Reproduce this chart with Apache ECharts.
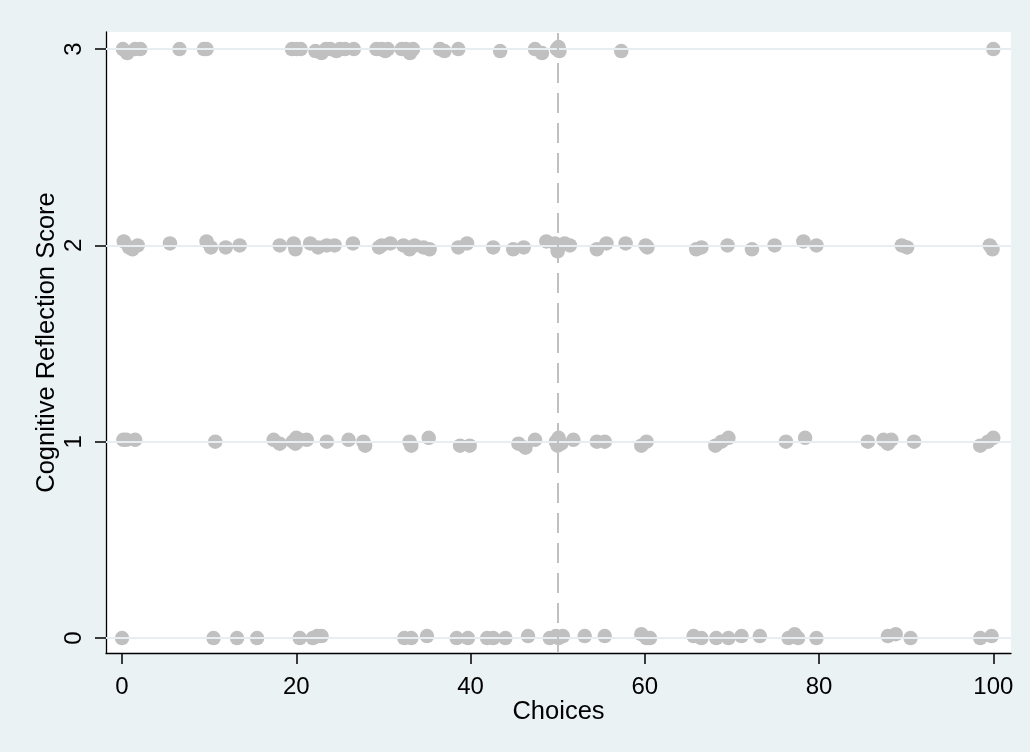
<!DOCTYPE html>
<html>
<head>
<meta charset="utf-8">
<script src="https://cdn.jsdelivr.net/npm/echarts@6/dist/echarts.min.js"></script>
<style>
  html, body { margin: 0; padding: 0; background: #EAF2F3; }
  #chart { width: 1030px; height: 752px; }
</style>
</head>
<body>
<div id="chart"></div>
<script>
// ---- data (x = choice, y = jittered cognitive reflection score) ----
const score3 = [
  [0.1, 3.0], [0.6, 2.98], [1.5, 3.0], [2.1, 3.0], [6.6, 3.0], [9.4, 3.0], [9.7, 3.0],
  [19.5, 3.0], [20.0, 3.0], [20.5, 3.0], [22.2, 2.99], [22.9, 2.98], [23.4, 3.0], [23.9, 3.0],
  [24.6, 2.99], [25.0, 3.0], [25.6, 3.0], [26.6, 3.0], [29.2, 3.0], [29.8, 3.0], [30.2, 2.99],
  [30.5, 3.0], [32.1, 3.0], [32.6, 3.0], [33.05, 2.98], [33.4, 3.0], [36.5, 3.0], [37.0, 2.99],
  [38.6, 3.0], [43.4, 2.99], [47.4, 3.0], [48.2, 2.98], [49.9, 3.0], [50.1, 3.01], [50.2, 2.99],
  [57.3, 2.99], [100, 3.0]
];
const score2 = [
  [0.2, 2.02], [0.8, 1.99], [1.2, 1.98], [1.8, 2.0], [5.5, 2.01], [9.7, 2.02], [10.2, 1.99],
  [11.9, 1.99], [13.5, 2.0], [18.1, 2.0], [19.7, 2.01], [19.9, 1.98], [21.6, 2.01], [22.5, 1.99],
  [23.5, 2.0], [24.4, 2.0], [26.5, 2.01], [29.5, 1.99], [29.8, 2.0], [30.8, 2.01], [32.3, 2.0],
  [33.0, 1.98], [33.6, 2.0], [34.6, 1.99], [35.3, 1.98], [38.6, 1.99], [39.6, 2.01], [42.6, 1.99],
  [44.9, 1.98], [46.1, 1.99], [48.7, 2.02], [49.7, 2.01], [50.0, 1.97], [50.3, 2.0], [50.8, 2.01],
  [51.4, 2.0], [54.5, 1.98], [55.6, 2.01], [57.8, 2.01], [60.1, 2.0], [60.3, 1.99], [65.9, 1.98],
  [66.5, 1.99], [69.5, 2.0], [72.3, 1.98], [74.9, 2.0], [78.2, 2.02], [79.7, 2.0], [89.5, 2.0],
  [90.1, 1.99], [99.6, 2.0], [99.9, 1.98]
];
const score1 = [
  [0.15, 1.01], [0.5, 1.01], [1.5, 1.01], [10.7, 1.0], [17.4, 1.01], [18.1, 0.99], [19.6, 1.0],
  [19.9, 0.99], [20.0, 1.02], [20.4, 1.01], [21.2, 1.01], [23.5, 1.0], [26.0, 1.01], [27.7, 1.0],
  [27.9, 0.98], [33.0, 1.0], [33.2, 0.98], [35.2, 1.02], [38.8, 0.98], [39.9, 0.98], [45.5, 0.99],
  [46.3, 0.97], [47.4, 1.01], [49.8, 1.0], [50.0, 0.98], [50.1, 1.02], [50.4, 0.99], [51.8, 1.01],
  [54.5, 1.0], [55.4, 1.0], [59.6, 0.98], [60.2, 1.0], [68.1, 0.98], [68.8, 1.0], [69.6, 1.02],
  [76.2, 1.0], [78.4, 1.02], [85.6, 1.0], [87.4, 1.01], [87.9, 0.99], [88.3, 1.01], [90.9, 1.0],
  [98.5, 0.98], [99.4, 1.0], [100, 1.02]
];
const score0 = [
  [0.0, 0.0], [10.5, 0.0], [13.2, 0.0], [15.5, 0.0], [20.4, 0.0], [21.9, 0.0], [22.4, 0.01],
  [22.9, 0.01], [32.4, 0.0], [33.2, 0.0], [35.0, 0.01], [38.4, 0.0], [39.7, 0.0], [41.9, 0.0],
  [42.6, 0.0], [44.0, 0.0], [46.6, 0.01], [49.1, 0.0], [49.8, 0.01], [50.1, 0.0], [50.6, 0.01],
  [53.1, 0.01], [55.4, 0.01], [59.6, 0.02], [60.2, 0.0], [60.6, 0.0], [65.6, 0.01], [66.5, 0.0],
  [68.2, 0.0], [69.6, 0.0], [71.1, 0.01], [73.2, 0.01], [76.5, 0.0], [77.2, 0.02], [77.6, 0.0],
  [79.7, 0.0], [87.9, 0.01], [88.8, 0.02], [90.5, 0.0], [98.5, 0.0], [99.8, 0.01]
];
const xTicks = [0, 20, 40, 60, 80, 100];
const yTicks = [0, 1, 2, 3];
const referenceX = 50;
const xTitle = 'Choices';
const yTitle = 'Cognitive Reflection Score';

// ---- chart ----
const FONT = '"Liberation Sans", Arial, Helvetica, sans-serif';
const PT = '#C0C0C0';
const chart = echarts.init(document.getElementById('chart'), null, { renderer: 'canvas' });

const pointSeries = [score0, score1, score2, score3].map(d => ({
  type: 'scatter',
  data: d,
  symbol: 'circle',
  symbolSize: 14.5,
  itemStyle: { color: PT, opacity: 1 },
  z: 3,
  silent: true
}));

chart.setOption({
  animation: false,
  backgroundColor: '#EAF2F3',
  textStyle: { fontFamily: FONT },
  grid: {
    left: 106, right: 19, top: 32, bottom: 99,
    show: true, backgroundColor: '#FFFFFF', borderWidth: 0
  },
  xAxis: {
    type: 'value',
    min: -1.84, max: 102.03,
    name: xTitle,
    nameLocation: 'middle',
    nameGap: 46,
    nameMoveOverlap: false,
    nameTextStyle: { fontSize: 25.5, color: '#000', fontFamily: FONT },
    axisLine: { show: true, onZero: false, lineStyle: { color: '#000', width: 1.3 } },
    axisTick: { show: true, inside: false, customValues: xTicks, length: 11, lineStyle: { color: '#000', width: 1.5 } },
    axisLabel: { customValues: xTicks, fontSize: 24, color: '#000', margin: 22, fontFamily: FONT },
    splitLine: { show: false }
  },
  yAxis: {
    type: 'value',
    min: -0.076, max: 3.087,
    name: yTitle,
    nameLocation: 'middle',
    nameRotate: 90,
    nameGap: 46,
    nameMoveOverlap: false,
    nameTextStyle: { fontSize: 25.5, color: '#000', fontFamily: FONT },
    axisLine: { show: true, onZero: false, lineStyle: { color: '#000', width: 1.3 } },
    axisTick: { show: true, inside: false, customValues: yTicks, length: 11, lineStyle: { color: '#000', width: 1.5 } },
    axisLabel: { customValues: yTicks, rotate: 90, fontSize: 24, color: '#000', margin: 20, fontFamily: FONT },
    splitLine: { show: false }
  },
  series: [
    {
      type: 'scatter',
      data: [],
      z: 1,
      silent: true,
      markLine: {
        silent: true,
        symbol: ['none', 'none'],
        label: { show: false },
        animation: false,
        lineStyle: { color: '#E6EEF1', width: 2, type: 'solid' },
        data: yTicks.map(v => ({ yAxis: v }))
      }
    },
    ...pointSeries,
    {
      type: 'scatter',
      data: [],
      z: 4,
      silent: true,
      markLine: {
        silent: true,
        symbol: ['none', 'none'],
        label: { show: false },
        animation: false,
        lineStyle: { color: PT, width: 2, type: [20, 10] },
        data: [{ xAxis: referenceX }]
      }
    }
  ]
});
</script>
</body>
</html>
